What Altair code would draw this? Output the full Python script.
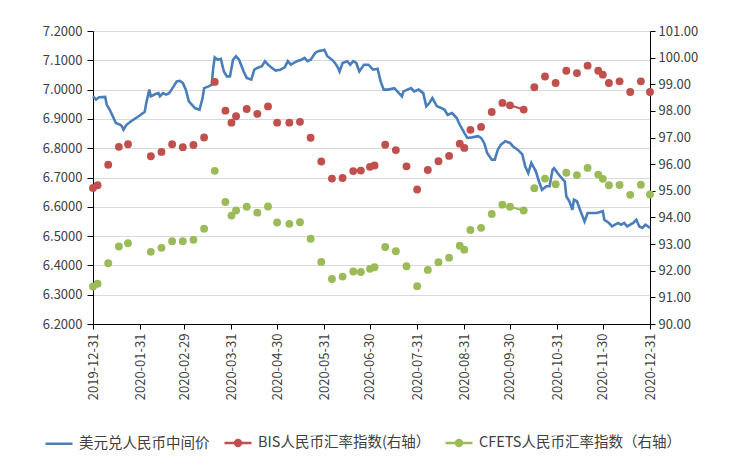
import altair as alt
import pandas as pd

FONT = "Noto Sans CJK SC"

# ---------------- data ----------------
usd_dates = [
    "2019-12-31", "2020-01-02", "2020-01-04", "2020-01-08", "2020-01-09", "2020-01-11",
    "2020-01-13", "2020-01-15", "2020-01-18", "2020-01-19", "2020-01-20", "2020-01-22",
    "2020-01-25", "2020-01-30", "2020-02-03", "2020-02-04", "2020-02-06", "2020-02-07",
    "2020-02-10", "2020-02-12", "2020-02-13", "2020-02-15", "2020-02-17", "2020-02-19",
    "2020-02-22", "2020-02-24", "2020-02-26", "2020-02-28", "2020-03-01", "2020-03-03",
    "2020-03-07", "2020-03-10", "2020-03-12", "2020-03-13", "2020-03-16", "2020-03-18",
    "2020-03-19", "2020-03-20", "2020-03-22", "2020-03-24", "2020-03-26", "2020-03-28",
    "2020-03-30", "2020-04-01", "2020-04-03", "2020-04-05", "2020-04-08", "2020-04-10",
    "2020-04-13", "2020-04-15", "2020-04-17", "2020-04-20", "2020-04-22", "2020-04-24",
    "2020-04-26", "2020-04-29", "2020-05-02", "2020-05-05", "2020-05-07", "2020-05-09",
    "2020-05-13", "2020-05-16", "2020-05-18", "2020-05-20", "2020-05-22", "2020-05-25",
    "2020-05-27", "2020-05-29", "2020-05-31", "2020-06-02", "2020-06-05", "2020-06-07",
    "2020-06-09", "2020-06-10", "2020-06-12", "2020-06-15", "2020-06-17", "2020-06-19",
    "2020-06-21", "2020-06-23", "2020-06-26", "2020-06-29", "2020-07-02", "2020-07-05",
    "2020-07-07", "2020-07-09", "2020-07-12", "2020-07-16", "2020-07-18", "2020-07-21",
    "2020-07-22", "2020-07-27", "2020-07-29", "2020-08-01", "2020-08-04", "2020-08-06",
    "2020-08-08", "2020-08-10", "2020-08-13", "2020-08-16", "2020-08-18", "2020-08-20",
    "2020-08-23", "2020-08-26", "2020-08-28", "2020-08-31", "2020-09-02", "2020-09-05",
    "2020-09-09", "2020-09-11", "2020-09-13", "2020-09-15", "2020-09-18", "2020-09-20",
    "2020-09-22", "2020-09-24", "2020-09-27", "2020-09-30", "2020-10-02", "2020-10-05",
    "2020-10-08", "2020-10-10", "2020-10-12", "2020-10-14", "2020-10-17", "2020-10-19",
    "2020-10-21", "2020-10-24", "2020-10-26", "2020-10-28", "2020-10-29", "2020-11-01",
    "2020-11-04", "2020-11-05", "2020-11-06", "2020-11-08", "2020-11-10", "2020-11-11",
    "2020-11-13", "2020-11-15", "2020-11-18", "2020-11-20", "2020-11-23", "2020-11-26",
    "2020-11-30", "2020-12-01", "2020-12-04", "2020-12-06", "2020-12-10", "2020-12-12",
    "2020-12-14", "2020-12-16", "2020-12-20", "2020-12-22", "2020-12-24", "2020-12-26",
    "2020-12-28", "2020-12-31",
]
usd_vals = [
    6.977, 6.966, 6.974, 6.975, 6.949, 6.931,
    6.909, 6.886, 6.880, 6.875, 6.863, 6.880,
    6.892, 6.909, 6.924, 6.954, 7.000, 6.977,
    6.985, 6.988, 6.977, 6.988, 6.983, 6.988,
    7.011, 7.028, 7.030, 7.023, 7.000, 6.960,
    6.937, 6.931, 6.971, 7.005, 7.011, 7.017,
    7.074, 7.110, 7.102, 7.105, 7.062, 7.045,
    7.045, 7.102, 7.114, 7.102, 7.062, 7.040,
    7.034, 7.068, 7.074, 7.080, 7.097, 7.085,
    7.076, 7.065, 7.068, 7.076, 7.097, 7.085,
    7.097, 7.102, 7.108, 7.097, 7.102, 7.125,
    7.131, 7.133, 7.136, 7.114, 7.102, 7.091,
    7.074, 7.062, 7.091, 7.097, 7.085, 7.097,
    7.091, 7.062, 7.085, 7.085, 7.068, 7.071,
    7.028, 7.000, 7.000, 7.005, 6.994, 6.977,
    6.994, 7.005, 6.994, 7.000, 6.988, 6.943,
    6.954, 6.971, 6.943, 6.937, 6.931, 6.914,
    6.920, 6.903, 6.880, 6.852, 6.835, 6.837,
    6.841, 6.835, 6.818, 6.784, 6.761, 6.761,
    6.795, 6.812, 6.824, 6.818, 6.806, 6.795,
    6.780, 6.738, 6.715, 6.750, 6.721, 6.687,
    6.658, 6.670, 6.670, 6.727, 6.732, 6.710,
    6.692, 6.687, 6.636, 6.619, 6.590, 6.624,
    6.619, 6.590, 6.550, 6.579, 6.579, 6.579,
    6.585, 6.556, 6.545, 6.533, 6.545, 6.539,
    6.545, 6.533, 6.545, 6.556, 6.533, 6.528,
    6.539, 6.528,
]

idx_dates = [
    "2019-12-31", "2020-01-03", "2020-01-10", "2020-01-17", "2020-01-23", "2020-02-07",
    "2020-02-14", "2020-02-21", "2020-02-28", "2020-03-06", "2020-03-13", "2020-03-20",
    "2020-03-27", "2020-03-31", "2020-04-03", "2020-04-10", "2020-04-17", "2020-04-24",
    "2020-04-30", "2020-05-08", "2020-05-15", "2020-05-22", "2020-05-29", "2020-06-05",
    "2020-06-12", "2020-06-19", "2020-06-24", "2020-06-30", "2020-07-03", "2020-07-10",
    "2020-07-17", "2020-07-24", "2020-07-31", "2020-08-07", "2020-08-14", "2020-08-21",
    "2020-08-28", "2020-08-31", "2020-09-04", "2020-09-11", "2020-09-18", "2020-09-25",
    "2020-09-30", "2020-10-09", "2020-10-16", "2020-10-23", "2020-10-30", "2020-11-06",
    "2020-11-13", "2020-11-20", "2020-11-27", "2020-11-30", "2020-12-04", "2020-12-11",
    "2020-12-18", "2020-12-25", "2020-12-31",
]
bis_vals = [
    95.11, 95.21, 95.98, 96.65, 96.75, 96.30,
    96.46, 96.75, 96.64, 96.72, 97.00, 99.09,
    98.01, 97.56, 97.80, 98.07, 97.89, 98.17,
    97.56, 97.56, 97.59, 96.99, 96.10, 95.46,
    95.48, 95.74, 95.76, 95.90, 95.95, 96.73,
    96.53, 95.92, 95.05, 95.78, 96.11, 96.31,
    96.77, 96.61, 97.29, 97.40, 97.96, 98.30,
    98.21, 98.05, 98.89, 99.29, 99.05, 99.51,
    99.42, 99.70, 99.51, 99.36, 99.05, 99.11,
    98.71, 99.11, 98.71,
]
cfets_vals = [
    91.41, 91.51, 92.28, 92.91, 93.03, 92.71,
    92.86, 93.11, 93.11, 93.16, 93.58, 95.75,
    94.58, 94.07, 94.26, 94.40, 94.18, 94.41,
    93.81, 93.76, 93.82, 93.20, 92.33, 91.69,
    91.78, 91.97, 91.95, 92.07, 92.13, 92.89,
    92.73, 92.17, 91.42, 92.03, 92.32, 92.49,
    92.94, 92.79, 93.53, 93.61, 94.13, 94.48,
    94.40, 94.26, 95.10, 95.46, 95.25, 95.68,
    95.59, 95.86, 95.61, 95.45, 95.21, 95.22,
    94.85, 95.23, 94.86,
]
# consecutive rows of the weekly index series (drawn joined by a line segment)
linked_pairs = [
    ("2019-12-31", "2020-01-03"),
    ("2020-08-28", "2020-08-31"),
    ("2020-09-30", "2020-10-09"),
    ("2020-11-27", "2020-11-30"),
]

names = ["美元兑人民币中间价", "BIS人民币汇率指数(右轴）", "CFETS人民币汇率指数（右轴）"]
colors = ["#4a7ebb", "#c0504d", "#9bbb59"]
left_ticks = [6.2, 6.3, 6.4, 6.5, 6.6, 6.7, 6.8, 6.9, 7.0, 7.1, 7.2]
right_ticks = [90, 91, 92, 93, 94, 95, 96, 97, 98, 99, 100, 101]
month_ends = [
    "2019-12-31", "2020-01-31", "2020-02-29", "2020-03-31", "2020-04-30", "2020-05-31",
    "2020-06-30", "2020-07-31", "2020-08-31", "2020-09-30", "2020-10-31", "2020-11-30",
    "2020-12-31",
]


def dt(s):
    y, m, d = (int(p) for p in s.split("-"))
    return alt.DateTime(year=y, month=m, date=d, utc=True)


usd_df = pd.DataFrame({"date": usd_dates, "value": usd_vals, "series": names[0]})


def index_frame(s_name, vals):
    rows = []
    grp = 0
    prev = None
    for d, v in zip(idx_dates, vals):
        if prev is None or (prev, d) not in linked_pairs:
            grp += 1
        rows.append({"date": d, "value": v, "series": s_name, "grp": grp})
        prev = d
    return pd.DataFrame(rows)


bis_df = index_frame(names[1], bis_vals)
cfets_df = index_frame(names[2], cfets_vals)

# ---------------- encodings ----------------
LINE_PATH = "M-1,0L1,0"
DOT_PATH = "M-1,0L1,0M0.22,0A0.22,0.22,0,1,1,-0.22,0A0.22,0.22,0,1,1,0.22,0Z"

legend = alt.Legend(
    title=None,
    orient="none",
    legendX=-49,
    legendY=397,
    direction="horizontal",
    symbolSize=729,
    symbolStrokeWidth=2.5,
    symbolOpacity=1,
    labelFont=FONT,
    labelFontSize=14.5,
    labelColor="#404040",
    labelOffset=5,
    columnPadding=9,
    labelLimit=400,
)

axis_common = dict(
    title=None,
    domainColor="#000000",
    tickColor="#000000",
    labelFont=FONT,
    labelFontSize=13,
    labelColor="#404040",
    labelOverlap=False,
)

x_enc = alt.X(
    "date:T",
    scale=alt.Scale(type="utc", domain=[dt(month_ends[0]), dt(month_ends[-1])], nice=False),
    axis=alt.Axis(
        values=[dt(s) for s in month_ends],
        format="%Y-%m-%d",
        labelAngle=270,
        labelFlush=False,
        grid=False,
        tickSize=5,
        labelPadding=4,
        **axis_common,
    ),
)

y_left = alt.Y(
    "value:Q",
    scale=alt.Scale(domain=[6.2, 7.2], zero=False, nice=False),
    axis=alt.Axis(
        values=left_ticks,
        format=".4f",
        grid=True,
        gridColor="#d9d9d9",
        gridWidth=1.2,
        tickSize=6,
        labelPadding=5,
        labelFlush=False,
        **axis_common,
    ),
)
y_right = alt.Y(
    "value:Q",
    scale=alt.Scale(domain=[90, 101], zero=False, nice=False),
    axis=alt.Axis(
        orient="right",
        values=right_ticks,
        format=".2f",
        grid=False,
        tickSize=5,
        labelPadding=3,
        labelFlush=False,
        **axis_common,
    ),
)

usd_line = alt.Chart(usd_df).mark_line(strokeWidth=2.6, color=colors[0]).encode(x=x_enc, y=y_left)

# helper layer: draws nothing (all rows filtered out), only carries the legend
legend_helper = (
    alt.Chart(usd_df)
    .mark_point(filled=True)
    .encode(
        x=x_enc,
        y=y_left,
        fill=alt.Fill("series:N", scale=alt.Scale(domain=names, range=colors), legend=legend),
        stroke=alt.Stroke("series:N", scale=alt.Scale(domain=names, range=colors), legend=legend),
        shape=alt.Shape("series:N", scale=alt.Scale(domain=names, range=[LINE_PATH, DOT_PATH, DOT_PATH]), legend=legend),
    )
    .transform_filter("false")
)


def index_layers(df, col):
    lines = alt.Chart(df).mark_line(strokeWidth=2, color=col).encode(x=x_enc, y=y_right, detail="grp:N")
    pts = alt.Chart(df).mark_point(filled=True, size=62, opacity=1, shape="circle", color=col).encode(
        x=x_enc, y=y_right
    )
    return [lines, pts]


left = alt.layer(usd_line, legend_helper)
right = alt.layer(*index_layers(bis_df, colors[1]), *index_layers(cfets_df, colors[2]))

chart = (
    alt.layer(left, right)
    .resolve_scale(y="independent")
    .properties(
        width=557,
        height=293,
        autosize=alt.AutoSizeParams(type="none"),
        padding={"left": 85, "top": 23, "right": 82, "bottom": 130},
        background="white",
    )
    .configure_view(stroke=None)
)

chart.save("out.html", embed_options={"renderer": "svg", "actions": False})
